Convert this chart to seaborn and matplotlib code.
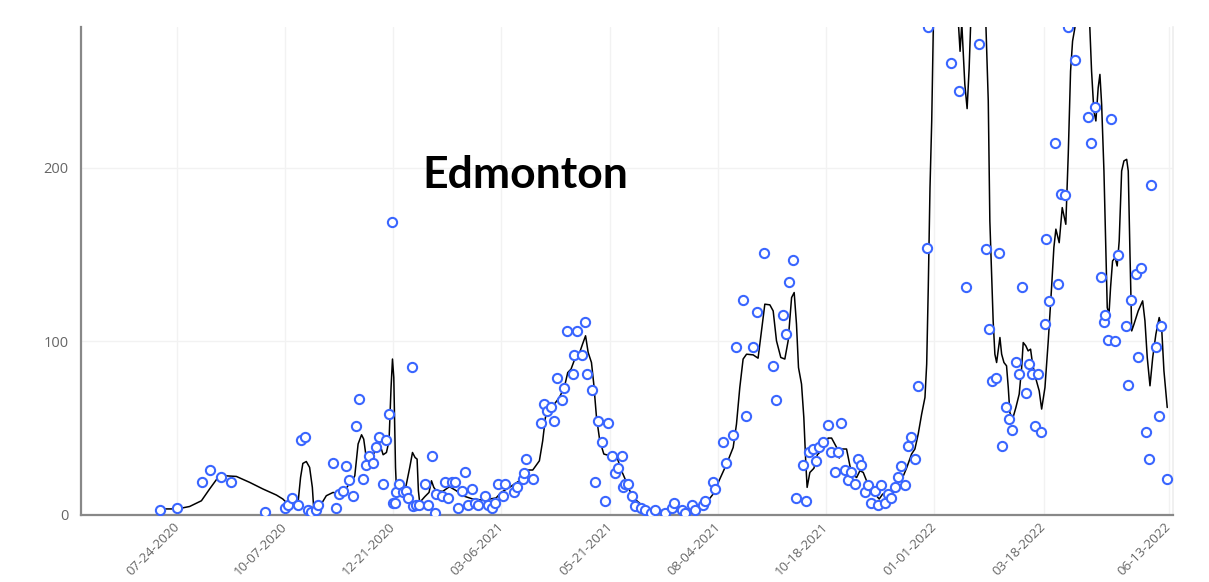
import pandas as pd
import matplotlib
matplotlib.use("Agg")
import matplotlib.pyplot as plt
import seaborn as sns

# Data: days counted from 2020-07-24
base_date = "2020-07-24"

pt_day = [
    -12, 0, 17, 23, 30, 37, 61, 75, 77, 80,
    84, 86, 89, 91, 93, 96, 98, 108, 110, 112,
    115, 117, 119, 122, 124, 126, 129, 131, 133, 136,
    138, 140, 143, 145, 147, 149, 150, 151, 152, 154,
    157, 159, 160, 163, 164, 166, 168, 172, 174, 177,
    179, 180, 184, 186, 188, 191, 193, 195, 198, 200,
    202, 205, 207, 209, 214, 216, 219, 221, 223, 226,
    228, 234, 236, 240, 241, 242, 247, 253, 255, 257,
    260, 262, 264, 267, 269, 271, 275, 276, 278, 281,
    283, 285, 288, 290, 292, 295, 297, 299, 302, 304,
    306, 309, 310, 311, 313, 316, 318, 322, 325, 329,
    332, 339, 344, 345, 351, 353, 358, 360, 365, 367,
    372, 374, 379, 381, 386, 388, 393, 395, 400, 403,
    408, 414, 416, 421, 423, 425, 428, 430, 435, 437,
    439, 442, 444, 446, 449, 452, 454, 457, 459, 461,
    464, 466, 468, 471, 473, 475, 478, 480, 482, 485,
    487, 489, 492, 494, 496, 499, 501, 503, 506, 508,
    510, 513, 515, 521, 522, 538, 543, 548, 557, 562,
    564, 566, 569, 571, 573, 576, 578, 580, 583, 585,
    587, 590, 592, 594, 596, 598, 600, 603, 604, 606,
    610, 612, 614, 617, 619, 624, 633, 635, 638, 642,
    644, 645, 647, 649, 652, 654, 659, 661, 663, 666,
    668, 670, 673, 675, 677, 680, 682, 684, 688,
]
pt_val = [
    3, 4, 19, 26, 22, 19, 2, 4, 6, 10,
    6, 43, 45, 3, 2, 3, 6, 30, 4, 12,
    14, 28, 20, 11, 51, 67, 21, 29, 34, 30,
    39, 45, 18, 43, 58, 169, 7, 7, 13, 18,
    13, 14, 10, 85, 5, 6, 6, 18, 6, 34,
    1, 12, 11, 19, 10, 19, 19, 4, 14, 25,
    6, 15, 7, 6, 11, 6, 4, 7, 18, 11,
    18, 13, 16, 21, 24, 32, 21, 53, 64, 60,
    62, 54, 79, 66, 73, 106, 81, 92, 106, 92,
    111, 81, 72, 19, 54, 42, 8, 53, 34, 24,
    27, 34, 16, 18, 18, 11, 5, 4, 3, 1,
    3, 1, 4, 7, 3, 1, 6, 3, 6, 8,
    19, 15, 42, 30, 46, 97, 124, 57, 97, 117,
    151, 86, 66, 115, 104, 134, 147, 10, 29, 8,
    36, 38, 31, 39, 42, 52, 36, 25, 36, 53,
    26, 20, 25, 18, 32, 29, 13, 17, 7, 14,
    6, 17, 7, 12, 10, 16, 22, 28, 17, 40,
    45, 32, 74, 154, 281, 260, 244, 131, 271, 153,
    107, 77, 79, 151, 40, 62, 55, 49, 88, 81,
    131, 70, 87, 81, 51, 81, 48, 110, 159, 123,
    214, 133, 185, 184, 281, 262, 229, 214, 235, 137,
    111, 115, 101, 228, 100, 150, 109, 75, 124, 139,
    91, 142, 48, 32, 190, 97, 57, 109, 21,
]

# smoothed trend line
line_day = [
    -12, 0, 8.5, 16.7, 22.4, 28.2, 32.8, 41, 50.2, 59.4,
    68.8, 73.3, 76.8, 80.3, 84, 85.6, 87.2, 89.6, 91.9, 93.8,
    94.7, 96.5, 100, 103.5, 108.2, 112.8, 116.3, 118.6, 121, 123.3,
    125.6, 128, 129.5, 131.4, 133.2, 135.6, 138.4, 140.7, 143, 145.3,
    147.1, 148.5, 149.5, 150.4, 151.6, 152.3, 153.9, 155.7, 158.7, 161.5,
    163.4, 165.2, 166.6, 167.5, 168.4, 171.9, 174.9, 176.6, 178.2, 179.9,
    184.4, 189.1, 193.8, 198.3, 205.3, 212.2, 221.5, 225, 230.8, 237.7,
    242.4, 247, 251.6, 253.9, 255.8, 258.5, 262, 265.5, 268.9, 271.3,
    273.6, 276.2, 279.2, 281.6, 283.7, 285.5, 287.8, 289.4, 291.3, 293.6,
    296.4, 300.6, 304, 305.6, 308.7, 311.7, 314.4, 317.9, 322.6, 328.4,
    335.3, 342.3, 349.2, 356.2, 363.1, 367.8, 372.4, 377, 381.7, 386.3,
    388.6, 390.9, 393.2, 395.6, 400.2, 403.6, 406, 408.3, 411.8, 414.1,
    416.4, 419.4, 422.2, 424.5, 426.9, 428.7, 430.3, 431.7, 433.8, 435.4,
    436.8, 437.7, 439.6, 442.4, 444.8, 448.3, 452.3, 454.7, 458.2, 460,
    461.6, 465.1, 468.6, 472.1, 474.4, 476.7, 479, 481.3, 484.8, 487.8,
    490.2, 493, 495.3, 498.8, 501.1, 504.6, 507, 510.3, 512.6, 514.9,
    517.3, 519.6, 520.8, 521.9, 523.1, 524.3, 525.4, 527, 534, 541,
    543, 544, 545.2, 547.3, 548.9, 550.3, 551.3, 554, 559, 562,
    563.6, 564.7, 567, 568.2, 569.4, 570.5, 571.7, 572.9, 574.5, 576.3,
    577.5, 578.6, 580.5, 582.8, 585.1, 586.8, 587.9, 589.7, 591.3, 593,
    594.4, 596.7, 599, 600.7, 603, 605.3, 607.6, 609.2, 610.6, 612.9,
    615, 617.5, 619.2, 620.8, 622.2, 623.8, 627, 631, 634.2, 635.4,
    637, 638.4, 640, 641.2, 642.4, 644, 645.4, 646.3, 647.5, 648.6,
    650, 651.8, 653.2, 654.6, 656.3, 657.9, 659.8, 660.9, 662.1, 663.3,
    664.9, 667.8, 670.9, 672.5, 674.1, 676, 677.9, 680.1, 682.4, 684.1,
    685.7, 688,
]
line_val = [
    3.5, 3.5, 4.9, 8.2, 15.0, 21.6, 22.6, 22.2, 18.8, 15.0,
    11.5, 9.2, 6.3, 6.7, 8.2, 21.6, 29.7, 30.8, 27.4, 15.9,
    4.4, 2.9, 6.3, 11.1, 13.0, 12.1, 14.0, 16.9, 18.8, 22.6,
    40.9, 46.2, 43.7, 32.2, 29.3, 34.1, 38.0, 40.9, 34.7, 36.0,
    42.7, 73.4, 89.8, 79.2, 27.4, 14.0, 16.9, 15.9, 15.9, 27.4,
    36.0, 33.1, 32.2, 14.0, 7.2, 10.5, 13.0, 19.7, 15.9, 14.0,
    13.6, 16.3, 14.0, 11.1, 9.2, 8.6, 9.8, 13.0, 15.9, 19.7,
    25.9, 25.9, 31.2, 42.7, 56.2, 60.0, 63.9, 67.7, 73.4, 82.0,
    84.0, 89.8, 92.6, 98.4, 103.2, 93.6, 87.8, 75.4, 56.2, 42.7,
    35.1, 34.1, 36.0, 33.1, 25.5, 19.7, 14.0, 9.2, 5.9, 3.5,
    2.5, 2.9, 3.5, 3.5, 4.4, 7.2, 12.1, 20.7, 29.3, 38.9,
    52.4, 73.4, 89.8, 92.6, 92.2, 90.3, 106.0, 121.4, 121.0, 117.5,
    100.3, 90.7, 89.8, 100.3, 125.2, 128.1, 109.9, 84.9, 75.4, 56.2,
    29.3, 15.9, 24.5, 26.9, 34.7, 37.6, 44.3, 44.3, 38.9, 32.8,
    38.0, 38.0, 23.6, 21.6, 25.5, 24.5, 19.7, 14.0, 12.1, 9.2,
    12.1, 10.1, 11.1, 14.0, 21.6, 22.6, 27.4, 35.1, 38.0, 46.6,
    58.1, 67.7, 86.9, 131.0, 188.5, 226.9, 280.5, 330, 360, 320,
    281, 267, 283, 248, 234, 257, 281, 330, 340, 281,
    238.4, 169.3, 111.8, 92.6, 87.8, 94.5, 102.2, 92.6, 87.8, 85.9,
    73.4, 59.0, 55.2, 61.9, 69.6, 84.9, 99.3, 97.4, 94.5, 95.5,
    86.9, 78.4, 71.5, 61.0, 73.4, 100.3, 131.0, 154.0, 164.6, 156.8,
    177.0, 167.4, 207.7, 255.6, 272.9, 280.5, 320, 320, 280.5, 255.6,
    232.6, 226.9, 246.0, 253.7, 236.5, 198.1, 150.2, 119.4, 115.6, 131.0,
    146.3, 148.2, 143.4, 157.8, 198.1, 203.9, 204.8, 198.1, 150.2, 106.0,
    109.9, 117.5, 123.3, 111.8, 90.7, 74.4, 90.7, 104.1, 113.7, 107.9,
    83.0, 61.9,
]

tick_dates = ["2020-07-24", "2020-10-07", "2020-12-21", "2021-03-06", "2021-05-21",
              "2021-08-04", "2021-10-18", "2022-01-01", "2022-03-18", "2022-06-13"]
y_ticks = [0, 100, 200]
title = "Edmonton"

base = pd.Timestamp(base_date)
points = pd.DataFrame({"date": base + pd.to_timedelta(pt_day, unit="D"), "value": pt_val})
trend = pd.DataFrame({"date": base + pd.to_timedelta(line_day, unit="D"), "value": line_val})

sns.set_style("white")
plt.rcParams["font.family"] = ["Open Sans", "DejaVu Sans"]

fig = plt.figure(figsize=(12.09, 5.82), dpi=100)
ax = fig.add_axes([81 / 1209, 67 / 582, 1092 / 1209, 488 / 582])

sns.lineplot(data=trend, x="date", y="value", color="black", linewidth=1.1,
             estimator=None, ax=ax, zorder=2)
sns.scatterplot(data=points, x="date", y="value", color="white", edgecolor="#3a66ff",
                s=44, linewidth=1.5, ax=ax, zorder=3)

ax.set_xlim(base + pd.Timedelta(days=-67), base + pd.Timedelta(days=692))
ax.set_ylim(0, 281)

ticks = pd.to_datetime(tick_dates)
ax.set_xticks(ticks)
ax.set_xticklabels([t.strftime("%m-%d-%Y") for t in ticks], rotation=45,
                   ha="right", va="center", rotation_mode="anchor")
ax.set_yticks(y_ticks)
ax.set_xlabel("")
ax.set_ylabel("")

ax.grid(True, color="#f2f2f2", linewidth=1.0)
ax.set_axisbelow(True)
ax.tick_params(axis="both", direction="out", length=5, width=1.2, color="#888888",
               labelcolor="#666666", labelsize=10.5, pad=4)
ax.tick_params(axis="x", labelsize=9.5, pad=2)
for side in ["left", "bottom"]:
    ax.spines[side].set_color("#888888")
    ax.spines[side].set_linewidth(1.6)
ax.spines["top"].set_visible(False)
ax.spines["right"].set_color("#eeeeee")
ax.spines["right"].set_linewidth(1.2)

ax.text(0.4066, 0.697, title, transform=ax.transAxes, ha="center", va="center",
        fontsize=32, fontweight="bold", color="black", family=["Lato", "DejaVu Sans"])

fig.savefig("out.png", dpi=100)
